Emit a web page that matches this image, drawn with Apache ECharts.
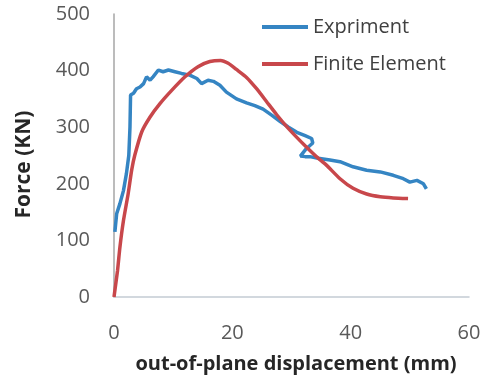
<!DOCTYPE html>
<html>
<head>
<meta charset="utf-8">
<script src="https://cdn.jsdelivr.net/npm/echarts@6/dist/echarts.min.js"></script>
<style>
	html, body { margin: 0; padding: 0; background: #fff; }
	#chart { width: 487px; height: 377px; }
</style>
</head>
<body>
<div id="chart"></div>
<script>
// 试验曲线 (displacement mm, force kN)
const expX = [0.15, 0.45, 1.0, 1.6, 2.1, 2.5, 2.7, 2.8, 3.3, 3.8, 4.4, 5.0, 5.5, 6.1, 6.6, 7.5, 8.3, 9.2, 10.3, 11.4, 12.8, 14.0, 14.8, 15.9, 16.8, 17.9, 19.0, 20.7, 22.4, 23.8, 25.2, 26.7, 28.1, 29.5, 30.9, 32.3, 33.4, 33.6, 32.5, 31.5, 32.3, 33.1, 34.5, 36.5, 38.2, 40.4, 42.7, 45.0, 47.2, 48.9, 50.0, 51.2, 52.3, 52.8]
const expY = [115, 147, 165, 188, 218, 250, 300, 357, 360, 368, 371, 377, 389, 383, 389, 401, 398, 401, 398, 395, 392, 386, 377, 383, 381, 374, 362, 350, 343, 338, 332, 321, 310, 300, 291, 285, 280, 272, 262, 249, 248, 248, 245, 242, 239, 230, 224, 221, 215, 209, 203, 206, 200, 191]
// 有限元曲线
const feX = [0, 0.6, 1.0, 1.6, 2.4, 3.0, 3.5, 4.7, 6.1, 7.8, 9.75, 12.0, 14.2, 16.2, 18.0, 19.3, 20.7, 22.4, 24.1, 25.8, 27.5, 29.2, 30.9, 32.6, 34.2, 35.9, 38.2, 40.4, 42.7, 45.0, 47.2, 49.7]
const feY = [0, 47, 88, 135, 183, 225, 250, 292, 318, 342, 365, 389, 407, 416, 418, 413, 402, 388, 368, 345, 322, 301, 282, 264, 248, 233, 209, 192, 182, 177, 175, 174]
const seriesNames = ['Expriment', 'Finite Element']
const xTicks = { min: 0, max: 60, interval: 20 }
const yTicks = { min: 0, max: 500, interval: 100 }

const zip = (xs, ys) => xs.map((x, i) => [x, ys[i]])

const chart = echarts.init(document.getElementById('chart'))
const option = {
	animation: false,
	grid: {
		left: 114,
		right: 18,
		top: 14,
		bottom: 80,
		outerBoundsMode: 'none',
	},
	legend: {
		orient: 'vertical',
		left: 262,
		top: 17,
		padding: 0,
		icon: 'rect',
		itemWidth: 46,
		itemHeight: 4,
		itemGap: 17,
		textStyle: {
			fontFamily: 'Open Sans',
			fontSize: 20,
			color: '#404040',
		},
		data: seriesNames,
	},
	xAxis: {
		type: 'value',
		min: xTicks.min,
		max: xTicks.max,
		interval: xTicks.interval,
		name: 'out-of-plane displacement (mm)',
		nameLocation: 'middle',
		nameGap: 57,
		nameTextStyle: {
			fontFamily: 'Open Sans',
			fontWeight: 'bold',
			fontSize: 20,
			color: '#262626',
			padding: [0, 0, 0, 9],
		},
		axisLine: { show: true, lineStyle: { color: '#c3cbd3', width: 1.5 } },
		axisTick: { show: false },
		splitLine: { show: false },
		axisLabel: {
			margin: 26,
			fontFamily: 'Open Sans',
			fontSize: 20,
			color: '#595959',
		},
	},
	yAxis: {
		type: 'value',
		min: yTicks.min,
		max: yTicks.max,
		interval: yTicks.interval,
		name: 'Force (KN)',
		nameLocation: 'middle',
		nameGap: 79,
		nameTextStyle: {
			fontFamily: 'Open Sans',
			fontWeight: 'bold',
			fontSize: 21,
			color: '#262626',
			padding: [0, 18, 0, 0],
		},
		axisLine: { show: true, lineStyle: { color: '#a6a6a6', width: 1.5 } },
		axisTick: { show: false },
		splitLine: { show: false },
		axisLabel: {
			margin: 24,
			fontFamily: 'Open Sans',
			fontSize: 20,
			color: '#595959',
		},
	},
	series: [
		{
			name: seriesNames[0],
			type: 'line',
			symbol: 'none',
			color: '#3585c3',
			lineStyle: { width: 3.5, color: '#3585c3' },
			data: zip(expX, expY),
		},
		{
			name: seriesNames[1],
			type: 'line',
			symbol: 'none',
			smooth: 0.2,
			color: '#c8474b',
			lineStyle: { width: 3.5, color: '#c8474b' },
			data: zip(feX, feY),
		},
	],
}
chart.setOption(option)
</script>
</body>
</html>
